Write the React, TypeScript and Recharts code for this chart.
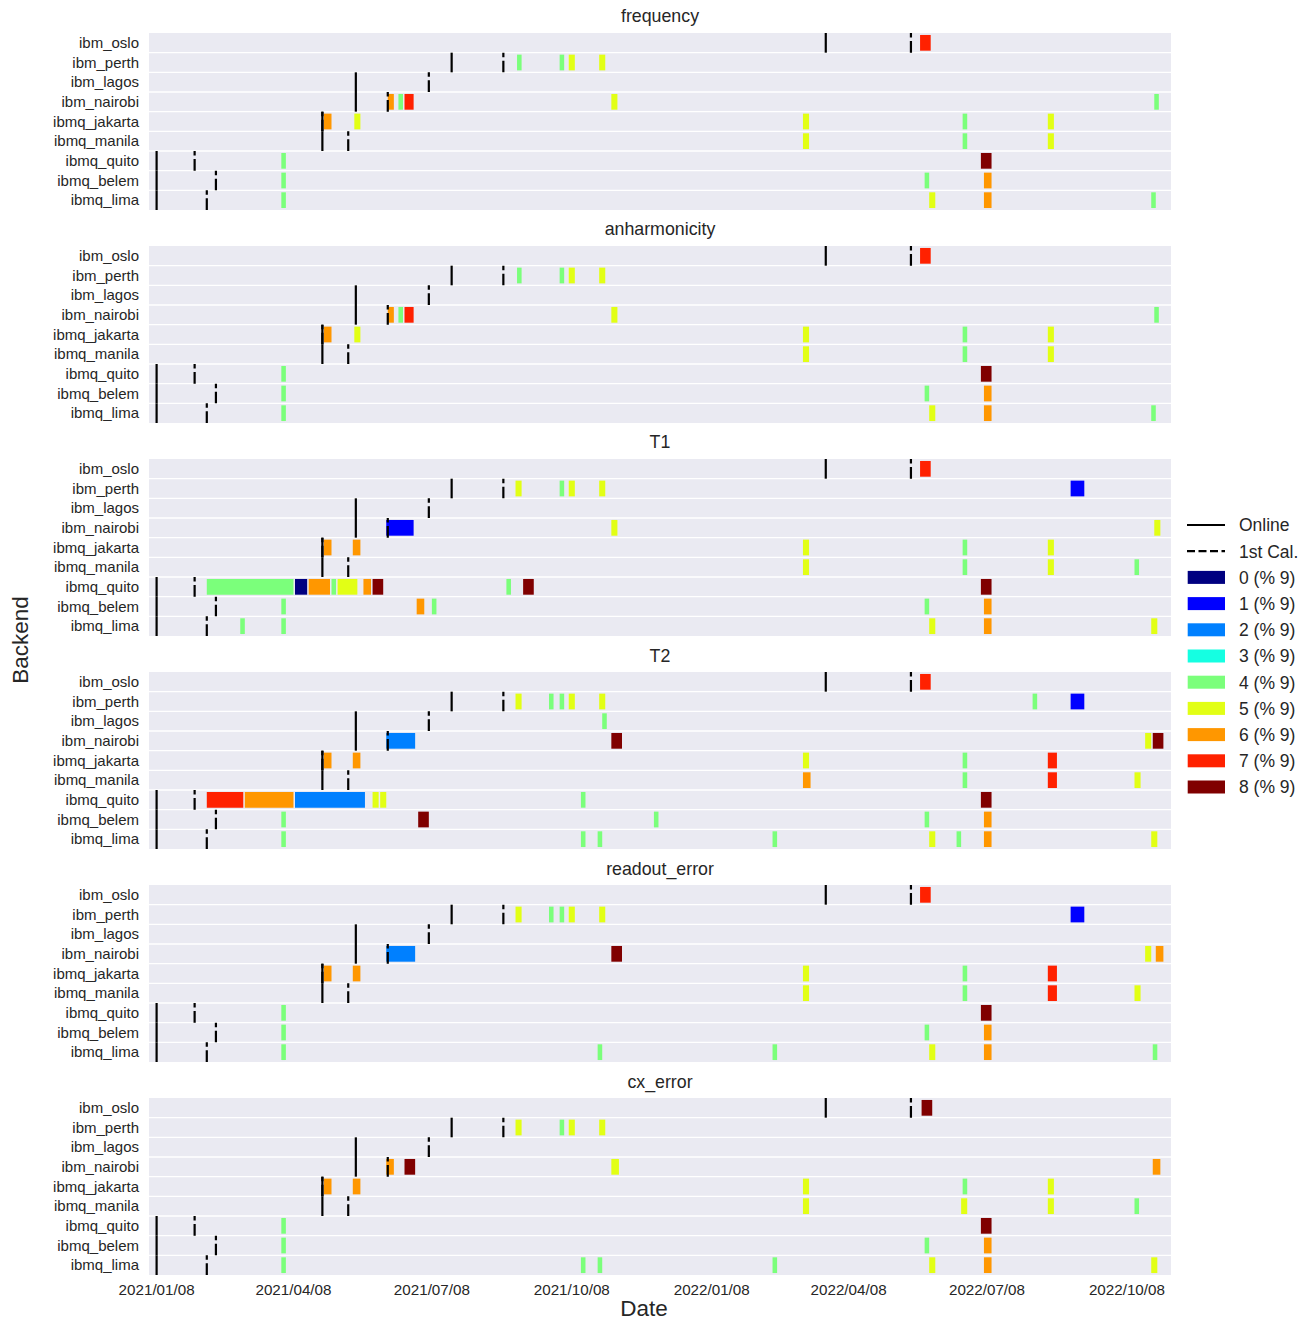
import React from 'react';
import { ComposedChart, XAxis, YAxis, ReferenceArea, ReferenceLine } from 'recharts';

const FONT = '"Liberation Sans", Arial, Helvetica, sans-serif';
const TEXT = '#262626';
const BG = '#EAEAF2';

const BACKENDS = [
  'ibm_oslo', 'ibm_perth', 'ibm_lagos', 'ibm_nairobi', 'ibmq_jakarta',
  'ibmq_manila', 'ibmq_quito', 'ibmq_belem', 'ibmq_lima',
];
// date each backend went online / got its first calibration
const ONLINE = [
  '2022-03-24', '2021-07-21', '2021-05-19', '2021-05-19', '2021-04-27',
  '2021-04-27', '2021-01-08', '2021-01-08', '2021-01-08',
];
const FIRST_CAL = [
  '2022-05-19', '2021-08-24', '2021-07-06', '2021-06-09', '2021-04-27',
  '2021-05-14', '2021-02-02', '2021-02-16', '2021-02-10',
];

// jet colormap, 9 steps
const COLORS = ['#000080', '#0000ff', '#0080ff', '#15ffe2', '#7bff7b', '#e2ff15', '#ff9700', '#ff2100', '#800000'];
const TICK_LABELS = [
  '2021/01/08', '2021/04/08', '2021/07/08', '2021/10/08',
  '2022/01/08', '2022/04/08', '2022/07/08', '2022/10/08',
];
const X_START = '2021-01-03';
const X_END = '2022-11-06';

// [backend, start, end, color index]
type Block = [string, string, string, number];

const FREQUENCY: Block[] = [
  ['ibm_oslo', '2022-05-25', '2022-06-01', 7],
  ['ibm_perth', '2021-09-02', '2021-09-05', 4],
  ['ibm_perth', '2021-09-30', '2021-10-03', 4],
  ['ibm_perth', '2021-10-06', '2021-10-10', 5],
  ['ibm_perth', '2021-10-26', '2021-10-30', 5],
  ['ibm_nairobi', '2021-06-09', '2021-06-13', 6],
  ['ibm_nairobi', '2021-06-16', '2021-06-19', 4],
  ['ibm_nairobi', '2021-06-20', '2021-06-26', 7],
  ['ibm_nairobi', '2021-11-03', '2021-11-07', 5],
  ['ibm_nairobi', '2022-10-26', '2022-10-29', 4],
  ['ibmq_jakarta', '2021-04-28', '2021-05-03', 6],
  ['ibmq_jakarta', '2021-05-18', '2021-05-22', 5],
  ['ibmq_jakarta', '2022-03-09', '2022-03-13', 5],
  ['ibmq_jakarta', '2022-06-22', '2022-06-25', 4],
  ['ibmq_jakarta', '2022-08-17', '2022-08-21', 5],
  ['ibmq_manila', '2022-03-09', '2022-03-13', 5],
  ['ibmq_manila', '2022-06-22', '2022-06-25', 4],
  ['ibmq_manila', '2022-08-17', '2022-08-21', 5],
  ['ibmq_quito', '2021-03-31', '2021-04-03', 4],
  ['ibmq_quito', '2022-07-04', '2022-07-11', 8],
  ['ibmq_belem', '2021-03-31', '2021-04-03', 4],
  ['ibmq_belem', '2022-05-28', '2022-05-31', 4],
  ['ibmq_belem', '2022-07-06', '2022-07-11', 6],
  ['ibmq_lima', '2021-03-31', '2021-04-03', 4],
  ['ibmq_lima', '2022-05-31', '2022-06-04', 5],
  ['ibmq_lima', '2022-07-06', '2022-07-11', 6],
  ['ibmq_lima', '2022-10-24', '2022-10-27', 4],
];

// anharmonicity shows the same changes as frequency
const ANHARMONICITY: Block[] = FREQUENCY;

const T1: Block[] = [
  ['ibm_oslo', '2022-05-25', '2022-06-01', 7],
  ['ibm_perth', '2021-09-01', '2021-09-05', 5],
  ['ibm_perth', '2021-09-30', '2021-10-03', 4],
  ['ibm_perth', '2021-10-06', '2021-10-10', 5],
  ['ibm_perth', '2021-10-26', '2021-10-30', 5],
  ['ibm_perth', '2022-09-01', '2022-09-10', 1],
  ['ibm_nairobi', '2021-06-08', '2021-06-26', 1],
  ['ibm_nairobi', '2021-11-03', '2021-11-07', 5],
  ['ibm_nairobi', '2022-10-26', '2022-10-30', 5],
  ['ibmq_jakarta', '2021-04-28', '2021-05-03', 6],
  ['ibmq_jakarta', '2021-05-17', '2021-05-22', 6],
  ['ibmq_jakarta', '2022-03-09', '2022-03-13', 5],
  ['ibmq_jakarta', '2022-06-22', '2022-06-25', 4],
  ['ibmq_jakarta', '2022-08-17', '2022-08-21', 5],
  ['ibmq_manila', '2022-03-09', '2022-03-13', 5],
  ['ibmq_manila', '2022-06-22', '2022-06-25', 4],
  ['ibmq_manila', '2022-08-17', '2022-08-21', 5],
  ['ibmq_manila', '2022-10-13', '2022-10-16', 4],
  ['ibmq_quito', '2021-02-10', '2021-04-08', 4],
  ['ibmq_quito', '2021-04-09', '2021-04-17', 0],
  ['ibmq_quito', '2021-04-18', '2021-05-02', 6],
  ['ibmq_quito', '2021-05-03', '2021-05-06', 4],
  ['ibmq_quito', '2021-05-07', '2021-05-20', 5],
  ['ibmq_quito', '2021-05-24', '2021-05-29', 6],
  ['ibmq_quito', '2021-05-30', '2021-06-06', 8],
  ['ibmq_quito', '2021-08-26', '2021-08-29', 4],
  ['ibmq_quito', '2021-09-06', '2021-09-13', 8],
  ['ibmq_quito', '2022-07-04', '2022-07-11', 8],
  ['ibmq_belem', '2021-03-31', '2021-04-03', 4],
  ['ibmq_belem', '2021-06-28', '2021-07-03', 6],
  ['ibmq_belem', '2021-07-08', '2021-07-11', 4],
  ['ibmq_belem', '2022-05-28', '2022-05-31', 4],
  ['ibmq_belem', '2022-07-06', '2022-07-11', 6],
  ['ibmq_lima', '2021-03-04', '2021-03-07', 4],
  ['ibmq_lima', '2021-03-31', '2021-04-03', 4],
  ['ibmq_lima', '2022-05-31', '2022-06-04', 5],
  ['ibmq_lima', '2022-07-06', '2022-07-11', 6],
  ['ibmq_lima', '2022-10-24', '2022-10-28', 5],
];

const T2: Block[] = [
  ['ibm_oslo', '2022-05-25', '2022-06-01', 7],
  ['ibm_perth', '2021-09-01', '2021-09-05', 5],
  ['ibm_perth', '2021-09-23', '2021-09-26', 4],
  ['ibm_perth', '2021-09-30', '2021-10-03', 4],
  ['ibm_perth', '2021-10-06', '2021-10-10', 5],
  ['ibm_perth', '2021-10-26', '2021-10-30', 5],
  ['ibm_perth', '2022-08-07', '2022-08-10', 4],
  ['ibm_perth', '2022-09-01', '2022-09-10', 1],
  ['ibm_lagos', '2021-10-28', '2021-10-31', 4],
  ['ibm_nairobi', '2021-06-08', '2021-06-27', 2],
  ['ibm_nairobi', '2021-11-03', '2021-11-10', 8],
  ['ibm_nairobi', '2022-10-20', '2022-10-24', 5],
  ['ibm_nairobi', '2022-10-25', '2022-11-01', 8],
  ['ibmq_jakarta', '2021-04-28', '2021-05-03', 6],
  ['ibmq_jakarta', '2021-05-17', '2021-05-22', 6],
  ['ibmq_jakarta', '2022-03-09', '2022-03-13', 5],
  ['ibmq_jakarta', '2022-06-22', '2022-06-25', 4],
  ['ibmq_jakarta', '2022-08-17', '2022-08-23', 7],
  ['ibmq_manila', '2022-03-09', '2022-03-14', 6],
  ['ibmq_manila', '2022-06-22', '2022-06-25', 4],
  ['ibmq_manila', '2022-08-17', '2022-08-23', 7],
  ['ibmq_manila', '2022-10-13', '2022-10-17', 5],
  ['ibmq_quito', '2021-02-10', '2021-03-06', 7],
  ['ibmq_quito', '2021-03-07', '2021-04-08', 6],
  ['ibmq_quito', '2021-04-09', '2021-05-25', 2],
  ['ibmq_quito', '2021-05-30', '2021-06-03', 5],
  ['ibmq_quito', '2021-06-04', '2021-06-08', 5],
  ['ibmq_quito', '2021-10-14', '2021-10-17', 4],
  ['ibmq_quito', '2022-07-04', '2022-07-11', 8],
  ['ibmq_belem', '2021-03-31', '2021-04-03', 4],
  ['ibmq_belem', '2021-06-29', '2021-07-06', 8],
  ['ibmq_belem', '2021-12-01', '2021-12-04', 4],
  ['ibmq_belem', '2022-05-28', '2022-05-31', 4],
  ['ibmq_belem', '2022-07-06', '2022-07-11', 6],
  ['ibmq_lima', '2021-03-31', '2021-04-03', 4],
  ['ibmq_lima', '2021-10-14', '2021-10-17', 4],
  ['ibmq_lima', '2021-10-25', '2021-10-28', 4],
  ['ibmq_lima', '2022-02-17', '2022-02-20', 4],
  ['ibmq_lima', '2022-05-31', '2022-06-04', 5],
  ['ibmq_lima', '2022-06-18', '2022-06-21', 4],
  ['ibmq_lima', '2022-07-06', '2022-07-11', 6],
  ['ibmq_lima', '2022-10-24', '2022-10-28', 5],
];

const READOUT_ERROR: Block[] = [
  ['ibm_oslo', '2022-05-25', '2022-06-01', 7],
  ['ibm_perth', '2021-09-01', '2021-09-05', 5],
  ['ibm_perth', '2021-09-23', '2021-09-26', 4],
  ['ibm_perth', '2021-09-30', '2021-10-03', 4],
  ['ibm_perth', '2021-10-06', '2021-10-10', 5],
  ['ibm_perth', '2021-10-26', '2021-10-30', 5],
  ['ibm_perth', '2022-09-01', '2022-09-10', 1],
  ['ibm_nairobi', '2021-06-08', '2021-06-27', 2],
  ['ibm_nairobi', '2021-11-03', '2021-11-10', 8],
  ['ibm_nairobi', '2022-10-20', '2022-10-24', 5],
  ['ibm_nairobi', '2022-10-27', '2022-11-01', 6],
  ['ibmq_jakarta', '2021-04-28', '2021-05-03', 6],
  ['ibmq_jakarta', '2021-05-17', '2021-05-22', 6],
  ['ibmq_jakarta', '2022-03-09', '2022-03-13', 5],
  ['ibmq_jakarta', '2022-06-22', '2022-06-25', 4],
  ['ibmq_jakarta', '2022-08-17', '2022-08-23', 7],
  ['ibmq_manila', '2022-03-09', '2022-03-13', 5],
  ['ibmq_manila', '2022-06-22', '2022-06-25', 4],
  ['ibmq_manila', '2022-08-17', '2022-08-23', 7],
  ['ibmq_manila', '2022-10-13', '2022-10-17', 5],
  ['ibmq_quito', '2021-03-31', '2021-04-03', 4],
  ['ibmq_quito', '2022-07-04', '2022-07-11', 8],
  ['ibmq_belem', '2021-03-31', '2021-04-03', 4],
  ['ibmq_belem', '2022-05-28', '2022-05-31', 4],
  ['ibmq_belem', '2022-07-06', '2022-07-11', 6],
  ['ibmq_lima', '2021-03-31', '2021-04-03', 4],
  ['ibmq_lima', '2021-10-25', '2021-10-28', 4],
  ['ibmq_lima', '2022-02-17', '2022-02-20', 4],
  ['ibmq_lima', '2022-05-31', '2022-06-04', 5],
  ['ibmq_lima', '2022-07-06', '2022-07-11', 6],
  ['ibmq_lima', '2022-10-25', '2022-10-28', 4],
];

const CX_ERROR: Block[] = [
  ['ibm_oslo', '2022-05-26', '2022-06-02', 8],
  ['ibm_perth', '2021-09-01', '2021-09-05', 5],
  ['ibm_perth', '2021-09-30', '2021-10-03', 4],
  ['ibm_perth', '2021-10-06', '2021-10-10', 5],
  ['ibm_perth', '2021-10-26', '2021-10-30', 5],
  ['ibm_nairobi', '2021-06-08', '2021-06-13', 6],
  ['ibm_nairobi', '2021-06-20', '2021-06-27', 8],
  ['ibm_nairobi', '2021-11-03', '2021-11-08', 5],
  ['ibm_nairobi', '2022-10-25', '2022-10-30', 6],
  ['ibmq_jakarta', '2021-04-28', '2021-05-03', 6],
  ['ibmq_jakarta', '2021-05-17', '2021-05-22', 6],
  ['ibmq_jakarta', '2022-03-09', '2022-03-13', 5],
  ['ibmq_jakarta', '2022-06-22', '2022-06-25', 4],
  ['ibmq_jakarta', '2022-08-17', '2022-08-21', 5],
  ['ibmq_manila', '2022-03-09', '2022-03-13', 5],
  ['ibmq_manila', '2022-06-21', '2022-06-25', 5],
  ['ibmq_manila', '2022-08-17', '2022-08-21', 5],
  ['ibmq_manila', '2022-10-13', '2022-10-16', 4],
  ['ibmq_quito', '2021-03-31', '2021-04-03', 4],
  ['ibmq_quito', '2022-07-04', '2022-07-11', 8],
  ['ibmq_belem', '2021-03-31', '2021-04-03', 4],
  ['ibmq_belem', '2022-05-28', '2022-05-31', 4],
  ['ibmq_belem', '2022-07-06', '2022-07-11', 6],
  ['ibmq_lima', '2021-03-31', '2021-04-03', 4],
  ['ibmq_lima', '2021-10-14', '2021-10-17', 4],
  ['ibmq_lima', '2021-10-25', '2021-10-28', 4],
  ['ibmq_lima', '2022-02-17', '2022-02-20', 4],
  ['ibmq_lima', '2022-05-31', '2022-06-04', 5],
  ['ibmq_lima', '2022-07-06', '2022-07-11', 6],
  ['ibmq_lima', '2022-10-24', '2022-10-28', 5],
];

const PANELS = [
  { title: 'frequency', blocks: FREQUENCY },
  { title: 'anharmonicity', blocks: ANHARMONICITY },
  { title: 'T1', blocks: T1 },
  { title: 'T2', blocks: T2 },
  { title: 'readout_error', blocks: READOUT_ERROR },
  { title: 'cx_error', blocks: CX_ERROR },
];

const day = (s: string) =>
  Date.UTC(+s.slice(0, 4), +s.slice(5, 7) - 1, +s.slice(8, 10)) / 86400000;

const TICK_VALUES = TICK_LABELS.map((t) => day(t.replace(/\//g, '-')));
const ROWS = BACKENDS.map((_, i) => i);

const W = 1313;
const PLOT_LEFT = 149;
const PLOT_RIGHT = 1171;
const PLOT_H = 177;
const FIRST_TOP = 32.7;
const STEP = 213.1;

function Panel({ title, blocks, index, last }: { title: string; blocks: Block[]; index: number; last: boolean }) {
  const top = FIRST_TOP + STEP * index;
  const mt = 4;
  const mb = 4;
  const xh = last ? 32 : 0;
  return (
    <>
      <div
        style={{
          position: 'absolute', left: PLOT_LEFT, width: PLOT_RIGHT - PLOT_LEFT, top: top - 26.5,
          textAlign: 'center', fontSize: 17.8, lineHeight: '20px', color: TEXT,
        }}
      >
        {title}
      </div>
      <div style={{ position: 'absolute', left: 0, top: top - mt }}>
        <ComposedChart
          width={W}
          height={PLOT_H + mt + mb + xh}
          margin={{ top: mt, right: W - PLOT_RIGHT, bottom: mb, left: 0 }}
          data={[]}
        >
          <XAxis
            type="number"
            dataKey="x"
            domain={[day(X_START), day(X_END)]}
            allowDataOverflow
            ticks={TICK_VALUES}
            interval={0}
            tickFormatter={(v: number) => TICK_LABELS[TICK_VALUES.indexOf(v)] ?? ''}
            hide={!last}
            height={xh}
            axisLine={false}
            tickLine={false}
            tickSize={0}
            tickMargin={9}
            tick={{ fontSize: 15.2, fill: TEXT, fontFamily: FONT }}
          />
          <YAxis
            type="number"
            dataKey="y"
            domain={[-0.5, 8.5]}
            allowDataOverflow
            reversed
            ticks={ROWS}
            interval={0}
            tickFormatter={(v: number) => BACKENDS[v] ?? ''}
            width={PLOT_LEFT}
            axisLine={false}
            tickLine={false}
            tickSize={0}
            tickMargin={10}
            tick={{ fontSize: 15, fill: TEXT, fontFamily: FONT }}
          />
          <ReferenceArea
            x1={day(X_START)}
            x2={day(X_END)}
            y1={-0.5}
            y2={8.5}
            fill={BG}
            fillOpacity={1}
            stroke="none"
            ifOverflow="visible"
          />
          {ROWS.slice(0, -1).map((i) => (
            <ReferenceLine key={`sep${i}`} y={i + 0.5} stroke="#ffffff" strokeWidth={1.3} />
          ))}
          {blocks.map(([b, s, e, c], k) => {
            const r = BACKENDS.indexOf(b);
            return (
              <ReferenceArea
                key={`blk${k}`}
                x1={day(s)}
                x2={day(e)}
                y1={r - 0.4}
                y2={r + 0.4}
                fill={COLORS[c]}
                fillOpacity={1}
                stroke="none"
                ifOverflow="visible"
              />
            );
          })}
          {ROWS.map((i) => (
            <ReferenceLine
              key={`on${i}`}
              segment={[{ x: day(ONLINE[i]), y: i - 0.5 }, { x: day(ONLINE[i]), y: i + 0.5 }]}
              stroke="#000000"
              strokeWidth={2.2}
              ifOverflow="visible"
            />
          ))}
          {ROWS.map((i) => (
            <ReferenceLine
              key={`cal${i}`}
              segment={[{ x: day(FIRST_CAL[i]), y: i - 0.5 }, { x: day(FIRST_CAL[i]), y: i + 0.5 }]}
              stroke="#000000"
              strokeWidth={2.2}
              strokeDasharray="4.5 3.5 12 20"
              ifOverflow="visible"
            />
          ))}
        </ComposedChart>
      </div>
    </>
  );
}

function Legend() {
  const rowY = (k: number) => 20 + 26.2 * k;
  return (
    <svg
      width={138}
      height={300}
      style={{ position: 'absolute', left: 1175, top: 505 }}
      fontFamily={FONT}
    >
      <line x1={12} x2={50} y1={rowY(0)} y2={rowY(0)} stroke="#000" strokeWidth={2.2} />
      <text x={64} y={rowY(0)} dy="0.36em" fontSize={17.5} fill={TEXT}>Online</text>
      <line x1={12} x2={50} y1={rowY(1)} y2={rowY(1)} stroke="#000" strokeWidth={2.2} strokeDasharray="8 3.5" />
      <text x={64} y={rowY(1)} dy="0.36em" fontSize={17.5} fill={TEXT}>1st Cal.</text>
      {COLORS.map((c, i) => (
        <g key={c}>
          <rect x={12.7} y={rowY(i + 2) - 6.5} width={37.3} height={13} fill={c} />
          <text x={64} y={rowY(i + 2)} dy="0.36em" fontSize={17.5} fill={TEXT}>{`${i} (% 9)`}</text>
        </g>
      ))}
    </svg>
  );
}

export default function App() {
  return (
    <div
      style={{
        position: 'absolute', left: 0, top: 0, width: W, height: 1321,
        background: '#ffffff', fontFamily: FONT, overflow: 'hidden',
      }}
    >
      {PANELS.map((p, i) => (
        <Panel key={p.title} title={p.title} blocks={p.blocks} index={i} last={i === PANELS.length - 1} />
      ))}
      <Legend />
      <svg width={W} height={1321} style={{ position: 'absolute', left: 0, top: 0, pointerEvents: 'none' }} fontFamily={FONT}>
        <text x={20} y={640} fontSize={22.5} fill={TEXT} textAnchor="middle" dominantBaseline="central" transform="rotate(-90 20 640)">
          Backend
        </text>
        <text x={644} y={1308} fontSize={22.5} fill={TEXT} textAnchor="middle" dominantBaseline="central">
          Date
        </text>
      </svg>
    </div>
  );
}
